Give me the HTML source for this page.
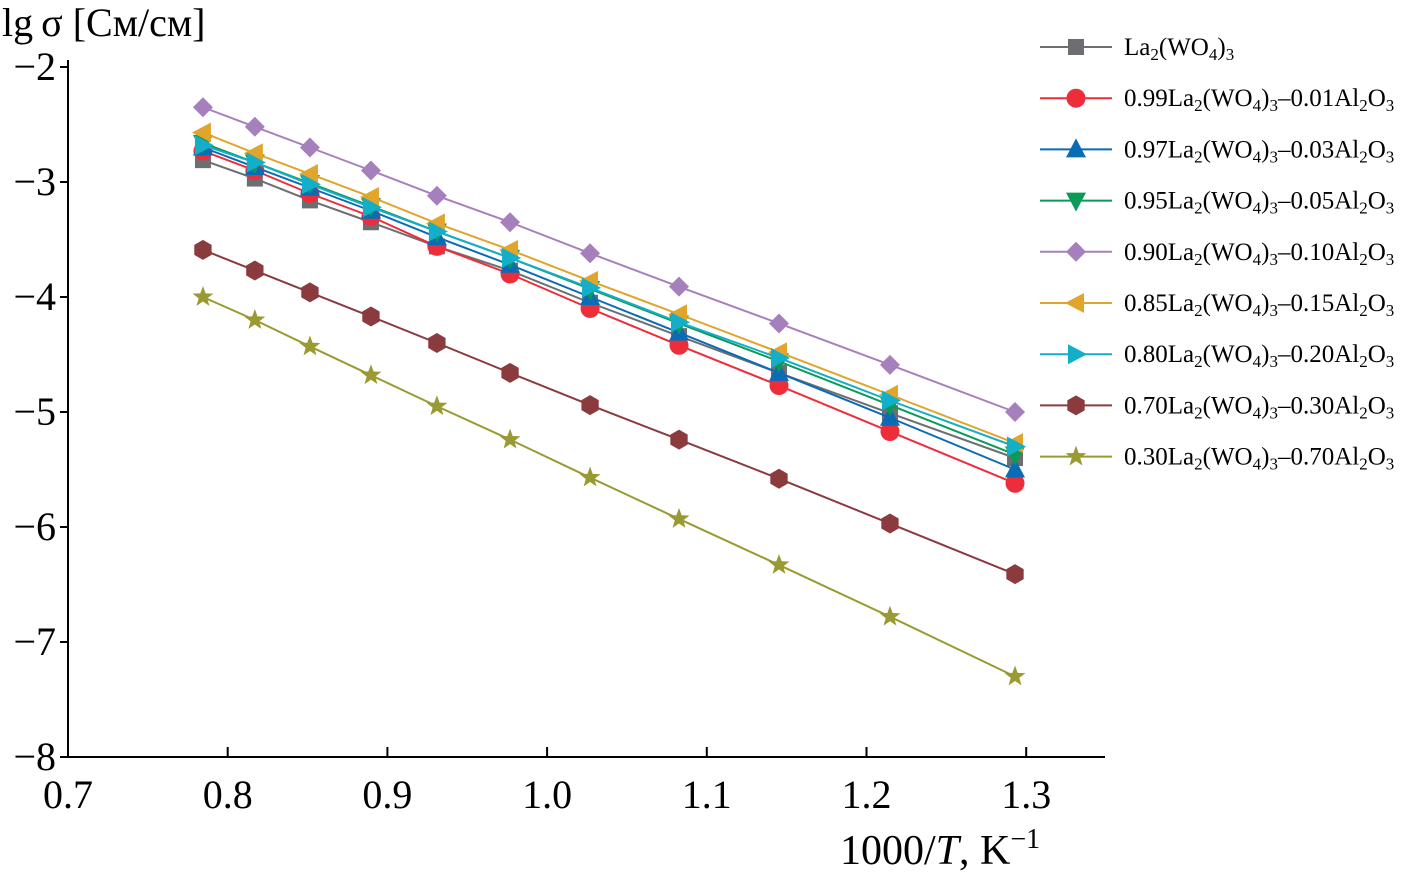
<!DOCTYPE html>
<html><head><meta charset="utf-8"><style>
body{margin:0;background:#fff}
svg{display:block;font-family:"Liberation Serif",serif}
</style></head><body>
<svg id="chart" width="1406" height="877" viewBox="0 0 1406 877">
<g id="axes"></g>
<g id="series"></g>
<g id="legend"></g>
<text x="2" y="36" font-size="40">lg<tspan dx="8">σ</tspan> [См/см]</text>
<text x="840" y="864" font-size="42">1000/<tspan font-style="italic">T</tspan>, K<tspan font-size="28" dy="-16">−1</tspan></text>
</svg>
<script>
const xValues=[0.7845,0.817,0.8515,0.8897,0.931,0.9768,1.0269,1.0826,1.1452,1.2147,1.293];
const sLa=[-2.81,-2.97,-3.16,-3.35,-3.56,-3.77,-4.05,-4.34,-4.66,-5.01,-5.40];
const s99=[-2.73,-2.90,-3.10,-3.30,-3.56,-3.80,-4.10,-4.42,-4.77,-5.17,-5.62];
const s97=[-2.70,-2.87,-3.05,-3.25,-3.48,-3.72,-4.00,-4.31,-4.66,-5.05,-5.50];
const s95=[-2.66,-2.83,-3.01,-3.21,-3.43,-3.66,-3.93,-4.23,-4.56,-4.94,-5.37];
const s90=[-2.35,-2.52,-2.70,-2.90,-3.12,-3.35,-3.62,-3.91,-4.23,-4.59,-5.00];
const s85=[-2.57,-2.75,-2.93,-3.13,-3.36,-3.59,-3.86,-4.15,-4.48,-4.85,-5.27];
const s80=[-2.68,-2.83,-3.02,-3.22,-3.43,-3.66,-3.92,-4.22,-4.53,-4.90,-5.30];
const s70=[-3.59,-3.77,-3.96,-4.17,-4.40,-4.66,-4.94,-5.24,-5.58,-5.97,-6.41];
const s30=[-4.00,-4.20,-4.43,-4.68,-4.95,-5.24,-5.57,-5.93,-6.33,-6.78,-7.30];
const xTicks=[0.7,0.8,0.9,1.0,1.1,1.2,1.3];
const xTickLabels=["0.7","0.8","0.9","1.0","1.1","1.2","1.3"];
const yTicks=[-2,-3,-4,-5,-6,-7,-8];
const yTickLabels=["−2","−3","−4","−5","−6","−7","−8"];
const seriesNames=["La2(WO4)3","0.99","0.97","0.95","0.90","0.85","0.80","0.70","0.30"];
const NS="http://www.w3.org/2000/svg";
const X=v=>68+(v-0.7)*1597;
const Y=v=>67-(v+2)*115;
function mk(tag,attrs,parent){const e=document.createElementNS(NS,tag);for(const k in attrs)e.setAttribute(k,attrs[k]);parent.appendChild(e);return e;}
const ax=document.getElementById('axes');
let l=mk('line',{x1:68,y1:757,x2:1105,y2:757,stroke:'#000','stroke-width':2},ax);

l=mk('line',{x1:68,y1:60,x2:68,y2:757,stroke:'#000','stroke-width':2},ax);

xTicks.forEach((t,i)=>{
 const tk=mk('line',{x1:X(t),y1:757,x2:X(t),y2:747,stroke:'#000','stroke-width':2},ax);
 
 const tx=mk('text',{x:X(t),y:808,'font-size':40,'text-anchor':'middle'},ax);tx.textContent=xTickLabels[i];
 
});
yTicks.forEach((t,i)=>{
 const tk=mk('line',{x1:60,y1:Y(t),x2:68,y2:Y(t),stroke:'#000','stroke-width':2},ax);
 
 const tx=mk('text',{x:56,y:Y(t)+13,'font-size':40,'text-anchor':'end'},ax);tx.textContent=yTickLabels[i];
 
});
const defs=[
 {d:sLa,c:'#6d6e71',m:'square',lab:'La<tspan font-size="17" dy="5">2</tspan><tspan dy="-5">(WO</tspan><tspan font-size="17" dy="5">4</tspan><tspan dy="-5">)</tspan><tspan font-size="17" dy="5">3</tspan>'},
 {d:s99,c:'#ee2d3b',m:'circle',p:'0.99',q:'0.01'},
 {d:s97,c:'#0a6cb5',m:'tri-up',p:'0.97',q:'0.03'},
 {d:s95,c:'#0b9b59',m:'tri-down',p:'0.95',q:'0.05'},
 {d:s90,c:'#a680bd',m:'diamond',p:'0.90',q:'0.10'},
 {d:s85,c:'#e0a52a',m:'tri-left',p:'0.85',q:'0.15'},
 {d:s80,c:'#13aec8',m:'tri-right',p:'0.80',q:'0.20'},
 {d:s70,c:'#8b3a3e',m:'hex',p:'0.70',q:'0.30'},
 {d:s30,c:'#9a9a33',m:'star',p:'0.30',q:'0.70'}];
function marker(type,x,y,c,parent){
 let e;
 const poly=pts=>mk('polygon',{points:pts.map(p=>(x+p[0])+','+(y+p[1])).join(' '),fill:c},parent);
 if(type==='square')e=mk('rect',{x:x-8,y:y-8,width:16,height:16,fill:c},parent);
 else if(type==='circle')e=mk('circle',{cx:x,cy:y,r:9.5,fill:c},parent);
 else if(type==='tri-up')e=poly([[0,-11],[10,8],[-10,8]]);
 else if(type==='tri-down')e=poly([[0,11],[10,-8],[-10,-8]]);
 else if(type==='tri-left')e=poly([[-11,0],[8,-10],[8,10]]);
 else if(type==='tri-right')e=poly([[11,0],[-8,-10],[-8,10]]);
 else if(type==='diamond')e=poly([[0,-10],[10,0],[0,10],[-10,0]]);
 else if(type==='hex'){const p=[];for(let k=0;k<6;k++){const a=Math.PI/6+k*Math.PI/3;p.push([10*Math.cos(a),10*Math.sin(a)]);}e=poly(p);}
 else {const p=[];for(let k=0;k<10;k++){const a=-Math.PI/2+k*Math.PI/5,r=k%2?4.5:11;p.push([r*Math.cos(a),r*Math.sin(a)]);}e=poly(p);}
 return e;
}
const sg=document.getElementById('series'),lg=document.getElementById('legend');
defs.forEach((s,i)=>{
 const g=mk('g',{},sg);
 
 
 const pl=mk('polyline',{points:s.d.map((v,j)=>X(xValues[j])+','+Y(v)).join(' '),fill:'none',stroke:s.c,'stroke-width':2},g);
 
 s.d.forEach((v,j)=>{const m=marker(s.m,X(xValues[j]),Y(v),s.c,g);
  });
 const ly=47+i*51.2;
 const le=mk('g',{},lg);
 
 
 mk('line',{x1:1040,y1:ly,x2:1112,y2:ly,stroke:s.c,'stroke-width':2},le);
 marker(s.m,1076,ly,s.c,le);
 const t=mk('text',{x:1124,y:ly+8,'font-size':25},le);
 t.innerHTML=s.lab||(s.p+'La<tspan font-size="17" dy="5">2</tspan><tspan dy="-5">(WO</tspan><tspan font-size="17" dy="5">4</tspan><tspan dy="-5">)</tspan><tspan font-size="17" dy="5">3</tspan><tspan dy="-5">–'+s.q+'Al</tspan><tspan font-size="17" dy="5">2</tspan><tspan dy="-5">O</tspan><tspan font-size="17" dy="5">3</tspan>');
});
</script>
</body></html>
